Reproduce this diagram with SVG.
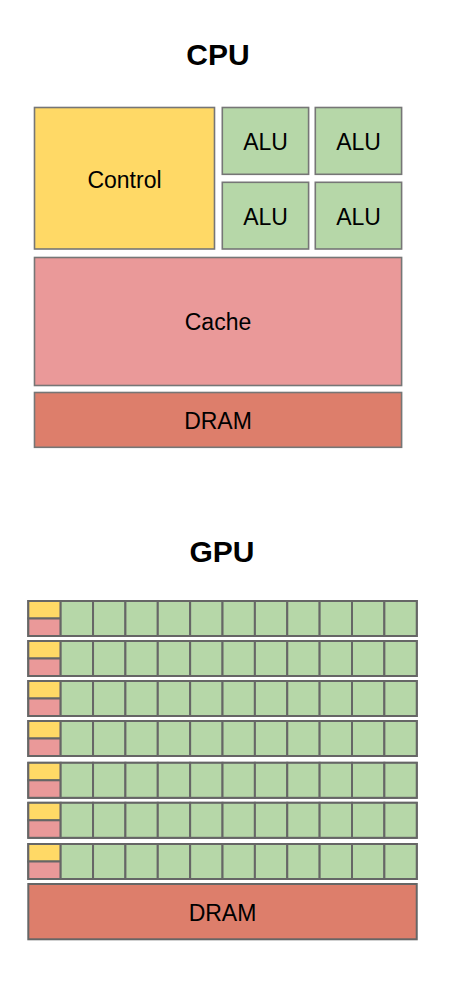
<svg xmlns="http://www.w3.org/2000/svg" xmlns:xlink="http://www.w3.org/1999/xlink" width="450" height="992" viewBox="0 0 450 992">
<style>
.bg{fill:#ffffff}
.cpu{stroke:#767676;stroke-width:1.6}
.gpu{stroke:#666666;stroke-width:2}
.ctl{fill:#ffd966}
.alu{fill:#b6d7a8}
.cache{fill:#ea9999}
.dram{fill:#dd7e6b}
.lbl{font-family:"Liberation Sans",Arial,sans-serif;font-size:23px;fill:#000;text-anchor:middle}
.title{font-family:"Liberation Sans",Arial,sans-serif;font-size:30px;font-weight:bold;fill:#000;text-anchor:middle}
</style>
<defs>
<g id="gpuRow">
<rect class="gpu alu" x="0" y="0" width="388.44" height="35"/>
<rect class="gpu ctl" x="0" y="0" width="32.37" height="17.5"/>
<rect class="gpu cache" x="0" y="17.5" width="32.37" height="17.5"/>
<rect class="gpu alu" x="32.37" y="0" width="32.37" height="35"/>
<rect class="gpu alu" x="64.74" y="0" width="32.37" height="35"/>
<rect class="gpu alu" x="97.11" y="0" width="32.37" height="35"/>
<rect class="gpu alu" x="129.48" y="0" width="32.37" height="35"/>
<rect class="gpu alu" x="161.85" y="0" width="32.37" height="35"/>
<rect class="gpu alu" x="194.22" y="0" width="32.37" height="35"/>
<rect class="gpu alu" x="226.59" y="0" width="32.37" height="35"/>
<rect class="gpu alu" x="258.96" y="0" width="32.37" height="35"/>
<rect class="gpu alu" x="291.33" y="0" width="32.37" height="35"/>
<rect class="gpu alu" x="323.7" y="0" width="32.37" height="35"/>
<rect class="gpu alu" x="356.07" y="0" width="32.37" height="35"/>
</g>
</defs>
<rect class="bg" x="0" y="0" width="450" height="992"/>

<g id="cpu-title"><text class="title" x="218" y="65">CPU</text></g>
<g id="cpu-control">
<rect class="cpu ctl" x="34.5" y="107.5" width="180" height="141.5"/>
<text class="lbl" x="124.5" y="187.5">Control</text>
</g>
<g id="cpu-alu-1">
<rect class="cpu alu" x="222.3" y="107.5" width="86.3" height="66.8"/>
<text class="lbl" x="265.5" y="150">ALU</text>
</g>
<g id="cpu-alu-2">
<rect class="cpu alu" x="315.3" y="107.5" width="86.3" height="66.8"/>
<text class="lbl" x="358.5" y="150">ALU</text>
</g>
<g id="cpu-alu-3">
<rect class="cpu alu" x="222.3" y="182.3" width="86.3" height="66.7"/>
<text class="lbl" x="265.5" y="225">ALU</text>
</g>
<g id="cpu-alu-4">
<rect class="cpu alu" x="315.3" y="182.3" width="86.3" height="66.7"/>
<text class="lbl" x="358.5" y="225">ALU</text>
</g>
<g id="cpu-cache">
<rect class="cpu cache" x="34.5" y="257.5" width="367.1" height="128"/>
<text class="lbl" x="218" y="330">Cache</text>
</g>
<g id="cpu-dram">
<rect class="cpu dram" x="34.5" y="392.5" width="367.1" height="54.8"/>
<text class="lbl" x="218" y="429">DRAM</text>
</g>

<g id="gpu-title"><text class="title" x="222" y="562">GPU</text></g>
<g id="gpu-row-1"><use xlink:href="#gpuRow" href="#gpuRow" x="28.3" y="601"/></g>
<g id="gpu-row-2"><use xlink:href="#gpuRow" href="#gpuRow" x="28.3" y="641"/></g>
<g id="gpu-row-3"><use xlink:href="#gpuRow" href="#gpuRow" x="28.3" y="681"/></g>
<g id="gpu-row-4"><use xlink:href="#gpuRow" href="#gpuRow" x="28.3" y="721"/></g>
<g id="gpu-row-5"><use xlink:href="#gpuRow" href="#gpuRow" x="28.3" y="762.8"/></g>
<g id="gpu-row-6"><use xlink:href="#gpuRow" href="#gpuRow" x="28.3" y="802.8"/></g>
<g id="gpu-row-7"><use xlink:href="#gpuRow" href="#gpuRow" x="28.3" y="844"/></g>
<g id="gpu-dram">
<rect class="gpu dram" x="28.3" y="884" width="388.44" height="55.3"/>
<text class="lbl" x="222.5" y="920.7">DRAM</text>
</g>
<g id="connectors"/>
</svg>
